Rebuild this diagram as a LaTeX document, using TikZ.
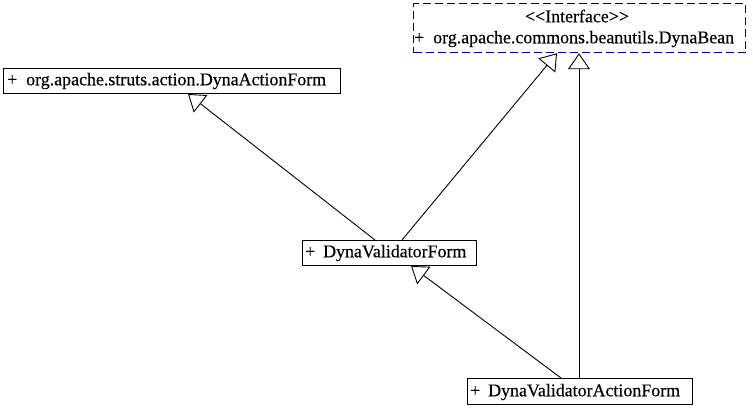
\documentclass[tikz,border=0pt]{standalone}
\usepackage{fontspec}
\setmainfont{Liberation Serif}
\newfontfamily\diagfont{Liberation Serif}[FakeBold=0.4]
\usetikzlibrary{arrows.meta,calc}
\definecolor{ifnavy}{RGB}{0,0,140}
\begin{document}
\begin{tikzpicture}[x=1pt,y=-1pt,
  classbox/.style={draw=black, line width=1pt, rectangle, inner sep=0pt, anchor=north west},
  ifacebox/.style={draw=ifnavy, line width=1.2pt, dash pattern=on 8pt off 4pt, rectangle, inner sep=0pt, anchor=north west},
  txt/.style={inner sep=0pt, font=\diagfont\fontsize{17.9}{20}\selectfont},
  lbl/.style={txt, anchor=west},
  gen/.style={line width=0.9pt, -{Triangle[open, length=16pt, width=22pt, line width=0.9pt]}}
]
\useasboundingbox (0,0) rectangle (753,410);

% boxes
\node[ifacebox, minimum width=332pt, minimum height=49pt] (dynabean) at (413,3) {};
\node[classbox, minimum width=337pt, minimum height=25pt] (daf) at (3,68) {};
\node[classbox, minimum width=174pt, minimum height=25pt] (dvf) at (302,240) {};
\node[classbox, minimum width=225pt, minimum height=26pt] (dvaf) at (467,378) {};

% texts
\node[txt, anchor=center] (ifst) at (577,16) {\textless\kern0pt\textless Interface\textgreater\kern0pt\textgreater};
\node[lbl] (ifname) at (414,39) {\makebox[19pt][l]{+}org.apache.commons.beanutils.DynaBean};
\node[lbl] (dafname) at (7,81) {\makebox[19pt][l]{+}org.apache.struts.action.DynaActionForm};
\node[lbl] (dvfname) at (305,253) {\makebox[18pt][l]{+}DynaValidatorForm};
\node[lbl] (dvafname) at (470,392) {\makebox[18pt][l]{+}DynaValidatorActionForm};

% connector end points
\coordinate (dvfA) at ($(dvf.north west)+(73,0)$);
\coordinate (dvfB) at ($(dvf.north west)+(100,0)$);
\coordinate (dvfS) at ($(dvf.south west)+(109,0)$);
\coordinate (dafS) at ($(daf.south west)+(185,0)$);
\coordinate (dbA) at ($(dynabean.south west)+(144,0)$);
\coordinate (dbB) at ($(dynabean.south west)+(166,0)$);
\coordinate (dvafA) at ($(dvaf.north west)+(94,0)$);
\coordinate (dvafB) at ($(dvaf.north west)+(112,0)$);

% generalizations
\draw[gen] (dvfA) -- (dafS);
\draw[gen] (dvfB) -- (dbA);
\draw[gen] (dvafA) -- (dvfS);
\draw[gen] (dvafB) -- (dbB);
\end{tikzpicture}
\end{document}
